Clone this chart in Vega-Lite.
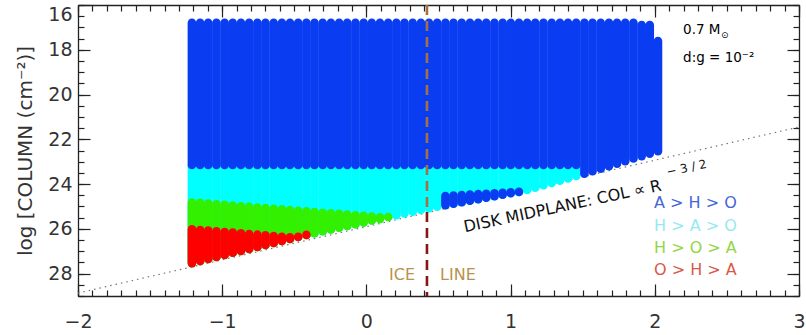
{
"$schema": "https://vega.github.io/schema/vega-lite/v6.json",
"width": 721, "height": 291,
"autosize": {"type": "none"},
"padding": {"left": 78, "top": 5, "right": 7, "bottom": 39},
"background": "white",
"config": {"view": {"stroke": null}, "axis": {"labelFont": "DejaVu Sans", "titleFont": "DejaVu Sans", "domainColor": "#222", "tickColor": "#222", "labelColor": "#333", "titleColor": "#333", "grid": false, "domainWidth": 1.3, "tickWidth": 1.2}},
"datasets": {
"cols": [
{"x":-1.21,"y":23.15,"y2":27.53,"r":"cyan"},{"x":-1.153,"y":23.15,"y2":27.44,"r":"cyan"},{"x":-1.097,"y":23.15,"y2":27.35,"r":"cyan"},{"x":-1.04,"y":23.15,"y2":27.26,"r":"cyan"},{"x":-0.983,"y":23.15,"y2":27.17,"r":"cyan"},{"x":-0.927,"y":23.15,"y2":27.07,"r":"cyan"},{"x":-0.87,"y":23.15,"y2":26.99,"r":"cyan"},{"x":-0.813,"y":23.15,"y2":26.9,"r":"cyan"},{"x":-0.756,"y":23.15,"y2":26.81,"r":"cyan"},{"x":-0.7,"y":23.15,"y2":26.72,"r":"cyan"},{"x":-0.643,"y":23.15,"y2":26.63,"r":"cyan"},{"x":-0.586,"y":23.15,"y2":26.54,"r":"cyan"},{"x":-0.53,"y":23.15,"y2":26.45,"r":"cyan"},{"x":-0.473,"y":23.15,"y2":26.36,"r":"cyan"},{"x":-0.416,"y":23.15,"y2":26.27,"r":"cyan"},{"x":-0.36,"y":23.15,"y2":26.19,"r":"cyan"},{"x":-0.303,"y":23.15,"y2":26.11,"r":"cyan"},{"x":-0.246,"y":23.15,"y2":26.03,"r":"cyan"},{"x":-0.189,"y":23.15,"y2":25.95,"r":"cyan"},{"x":-0.133,"y":23.15,"y2":25.87,"r":"cyan"},{"x":-0.076,"y":23.15,"y2":25.79,"r":"cyan"},{"x":-0.019,"y":23.15,"y2":25.71,"r":"cyan"},{"x":0.037,"y":23.15,"y2":25.63,"r":"cyan"},{"x":0.094,"y":23.15,"y2":25.56,"r":"cyan"},{"x":0.151,"y":23.15,"y2":25.47,"r":"cyan"},{"x":0.208,"y":23.15,"y2":25.39,"r":"cyan"},{"x":0.264,"y":23.15,"y2":25.31,"r":"cyan"},{"x":0.321,"y":23.15,"y2":25.24,"r":"cyan"},{"x":0.378,"y":23.15,"y2":25.16,"r":"cyan"},{"x":0.434,"y":23.15,"y2":25.08,"r":"cyan"},{"x":0.491,"y":23.15,"y2":25.01,"r":"cyan"},{"x":0.548,"y":23.15,"y2":24.94,"r":"cyan"},{"x":0.604,"y":23.15,"y2":24.88,"r":"cyan"},{"x":0.661,"y":23.15,"y2":24.81,"r":"cyan"},{"x":0.718,"y":23.15,"y2":24.74,"r":"cyan"},{"x":0.775,"y":23.15,"y2":24.68,"r":"cyan"},{"x":0.831,"y":23.15,"y2":24.61,"r":"cyan"},{"x":0.888,"y":23.15,"y2":24.54,"r":"cyan"},{"x":0.945,"y":23.15,"y2":24.47,"r":"cyan"},{"x":1.001,"y":23.15,"y2":24.41,"r":"cyan"},{"x":1.058,"y":23.15,"y2":24.35,"r":"cyan"},{"x":1.115,"y":23.15,"y2":24.26,"r":"cyan"},{"x":1.171,"y":23.15,"y2":24.16,"r":"cyan"},{"x":1.228,"y":23.15,"y2":24.05,"r":"cyan"},{"x":1.285,"y":23.15,"y2":23.95,"r":"cyan"},{"x":1.342,"y":23.15,"y2":23.85,"r":"cyan"},{"x":1.398,"y":23.15,"y2":23.75,"r":"cyan"},{"x":1.455,"y":23.15,"y2":23.64,"r":"cyan"},
{"x":-1.21,"y":24.82,"y2":27.53,"r":"green"},{"x":-1.153,"y":24.84,"y2":27.44,"r":"green"},{"x":-1.097,"y":24.87,"y2":27.35,"r":"green"},{"x":-1.04,"y":24.9,"y2":27.26,"r":"green"},{"x":-0.983,"y":24.93,"y2":27.17,"r":"green"},{"x":-0.927,"y":24.96,"y2":27.07,"r":"green"},{"x":-0.87,"y":24.99,"y2":26.99,"r":"green"},{"x":-0.813,"y":25.02,"y2":26.9,"r":"green"},{"x":-0.756,"y":25.05,"y2":26.81,"r":"green"},{"x":-0.7,"y":25.07,"y2":26.72,"r":"green"},{"x":-0.643,"y":25.1,"y2":26.63,"r":"green"},{"x":-0.586,"y":25.13,"y2":26.54,"r":"green"},{"x":-0.53,"y":25.16,"y2":26.45,"r":"green"},{"x":-0.473,"y":25.19,"y2":26.36,"r":"green"},{"x":-0.416,"y":25.22,"y2":26.27,"r":"green"},{"x":-0.36,"y":25.25,"y2":26.19,"r":"green"},{"x":-0.303,"y":25.28,"y2":26.11,"r":"green"},{"x":-0.246,"y":25.31,"y2":26.03,"r":"green"},{"x":-0.189,"y":25.33,"y2":25.95,"r":"green"},{"x":-0.133,"y":25.36,"y2":25.87,"r":"green"},{"x":-0.076,"y":25.39,"y2":25.79,"r":"green"},{"x":-0.019,"y":25.42,"y2":25.71,"r":"green"},{"x":0.037,"y":25.45,"y2":25.63,"r":"green"},{"x":0.094,"y":25.48,"y2":25.56,"r":"green"},{"x":0.151,"y":25.47,"y2":25.47,"r":"green"},
{"x":-1.21,"y":26.02,"y2":27.53,"r":"red"},{"x":-1.153,"y":26.05,"y2":27.44,"r":"red"},{"x":-1.097,"y":26.08,"y2":27.35,"r":"red"},{"x":-1.04,"y":26.11,"y2":27.26,"r":"red"},{"x":-0.983,"y":26.14,"y2":27.17,"r":"red"},{"x":-0.927,"y":26.17,"y2":27.07,"r":"red"},{"x":-0.87,"y":26.2,"y2":26.99,"r":"red"},{"x":-0.813,"y":26.23,"y2":26.9,"r":"red"},{"x":-0.756,"y":26.26,"y2":26.81,"r":"red"},{"x":-0.7,"y":26.29,"y2":26.72,"r":"red"},{"x":-0.643,"y":26.32,"y2":26.63,"r":"red"},{"x":-0.586,"y":26.35,"y2":26.54,"r":"red"},{"x":-0.53,"y":26.38,"y2":26.45,"r":"red"},{"x":-0.473,"y":26.36,"y2":26.36,"r":"red"},{"x":-0.416,"y":26.27,"y2":26.27,"r":"red"},
{"x":-1.21,"y":16.8,"y2":23.15,"r":"blue"},{"x":-1.153,"y":16.8,"y2":23.15,"r":"blue"},{"x":-1.097,"y":16.8,"y2":23.15,"r":"blue"},{"x":-1.04,"y":16.8,"y2":23.15,"r":"blue"},{"x":-0.983,"y":16.8,"y2":23.15,"r":"blue"},{"x":-0.927,"y":16.8,"y2":23.15,"r":"blue"},{"x":-0.87,"y":16.8,"y2":23.15,"r":"blue"},{"x":-0.813,"y":16.8,"y2":23.15,"r":"blue"},{"x":-0.756,"y":16.8,"y2":23.15,"r":"blue"},{"x":-0.7,"y":16.8,"y2":23.15,"r":"blue"},{"x":-0.643,"y":16.8,"y2":23.15,"r":"blue"},{"x":-0.586,"y":16.8,"y2":23.15,"r":"blue"},{"x":-0.53,"y":16.8,"y2":23.15,"r":"blue"},{"x":-0.473,"y":16.8,"y2":23.15,"r":"blue"},{"x":-0.416,"y":16.8,"y2":23.15,"r":"blue"},{"x":-0.36,"y":16.8,"y2":23.15,"r":"blue"},{"x":-0.303,"y":16.8,"y2":23.15,"r":"blue"},{"x":-0.246,"y":16.8,"y2":23.15,"r":"blue"},{"x":-0.189,"y":16.8,"y2":23.15,"r":"blue"},{"x":-0.133,"y":16.8,"y2":23.15,"r":"blue"},{"x":-0.076,"y":16.8,"y2":23.15,"r":"blue"},{"x":-0.019,"y":16.8,"y2":23.15,"r":"blue"},{"x":0.037,"y":16.8,"y2":23.15,"r":"blue"},{"x":0.094,"y":16.8,"y2":23.15,"r":"blue"},{"x":0.151,"y":16.8,"y2":23.15,"r":"blue"},{"x":0.208,"y":16.8,"y2":23.15,"r":"blue"},{"x":0.264,"y":16.8,"y2":23.15,"r":"blue"},{"x":0.321,"y":16.8,"y2":23.15,"r":"blue"},{"x":0.378,"y":16.8,"y2":23.15,"r":"blue"},{"x":0.434,"y":16.8,"y2":23.15,"r":"blue"},{"x":0.491,"y":16.8,"y2":23.15,"r":"blue"},{"x":0.548,"y":16.8,"y2":23.15,"r":"blue"},{"x":0.604,"y":16.8,"y2":23.15,"r":"blue"},{"x":0.661,"y":16.8,"y2":23.15,"r":"blue"},{"x":0.718,"y":16.8,"y2":23.15,"r":"blue"},{"x":0.775,"y":16.8,"y2":23.15,"r":"blue"},{"x":0.831,"y":16.8,"y2":23.15,"r":"blue"},{"x":0.888,"y":16.8,"y2":23.15,"r":"blue"},{"x":0.945,"y":16.8,"y2":23.15,"r":"blue"},{"x":1.001,"y":16.8,"y2":23.15,"r":"blue"},{"x":1.058,"y":16.8,"y2":23.15,"r":"blue"},{"x":1.115,"y":16.8,"y2":23.15,"r":"blue"},{"x":1.171,"y":16.8,"y2":23.15,"r":"blue"},{"x":1.228,"y":16.8,"y2":23.15,"r":"blue"},{"x":1.285,"y":16.8,"y2":23.15,"r":"blue"},{"x":1.342,"y":16.8,"y2":23.15,"r":"blue"},{"x":1.398,"y":16.8,"y2":23.15,"r":"blue"},{"x":1.455,"y":16.8,"y2":23.15,"r":"blue"},{"x":1.512,"y":16.8,"y2":23.54,"r":"blue"},{"x":1.568,"y":16.8,"y2":23.43,"r":"blue"},{"x":1.625,"y":16.8,"y2":23.31,"r":"blue"},{"x":1.682,"y":16.8,"y2":23.2,"r":"blue"},{"x":1.738,"y":16.8,"y2":23.09,"r":"blue"},{"x":1.795,"y":16.8,"y2":22.98,"r":"blue"},{"x":1.852,"y":16.8,"y2":22.86,"r":"blue"},{"x":1.909,"y":16.9,"y2":22.75,"r":"blue"},{"x":1.965,"y":16.9,"y2":22.64,"r":"blue"},{"x":2.022,"y":17.61,"y2":22.53,"r":"blue"},
{"x":0.548,"y":24.53,"y2":24.94,"r":"island"},{"x":0.604,"y":24.51,"y2":24.88,"r":"island"},{"x":0.661,"y":24.49,"y2":24.81,"r":"island"},{"x":0.718,"y":24.47,"y2":24.74,"r":"island"},{"x":0.775,"y":24.45,"y2":24.68,"r":"island"},{"x":0.831,"y":24.43,"y2":24.61,"r":"island"},{"x":0.888,"y":24.41,"y2":24.54,"r":"island"},{"x":0.945,"y":24.39,"y2":24.47,"r":"island"},{"x":1.001,"y":24.37,"y2":24.41,"r":"island"},{"x":1.058,"y":24.35,"y2":24.35,"r":"island"}
],
"midplane": [{"x":-2,"y":28.87},{"x":3,"y":21.45}],
"legend": [{"x":1.995,"y":24.85,"t":"A > H > O","k":"AHO"},{"x":1.995,"y":25.87,"t":"H > A > O","k":"HAO"},{"x":1.995,"y":26.86,"t":"H > O > A","k":"HOA"},{"x":1.995,"y":27.84,"t":"O > H > A","k":"OHA"}]
},
"layer": [
{"data": {"name": "midplane"}, "mark": {"type": "line", "color": "#777", "strokeWidth": 1.2, "strokeDash": [1.5, 4]},
 "encoding": {
  "x": {"field": "x", "type": "quantitative", "scale": {"domain": [-2, 3], "nice": false, "zero": false}, "axis": {"orient": "bottom", "values": [-2,-1.9,-1.8,-1.7,-1.6,-1.5,-1.4,-1.3,-1.2,-1.1,-1,-0.9,-0.8,-0.7,-0.6,-0.5,-0.4,-0.3,-0.2,-0.1,0,0.1,0.2,0.3,0.4,0.5,0.6,0.7,0.8,0.9,1,1.1,1.2,1.3,1.4,1.5,1.6,1.7,1.8,1.9,2,2.1,2.2,2.3,2.4,2.5,2.6,2.7,2.8,2.9,3], "labels": false, "domain": false, "tickSize": -6, "title": null}},
  "y": {"field": "y", "type": "quantitative", "scale": {"domain": [16, 29], "reverse": true, "nice": false, "zero": false}, "axis": {"orient": "left", "values": [16,16.5,17,17.5,18,18.5,19,19.5,20,20.5,21,21.5,22,22.5,23,23.5,24,24.5,25,25.5,26,26.5,27,27.5,28,28.5,29], "labels": false, "domain": false, "tickSize": -6, "title": null}}
 }},
{"data": {"name": "cols"}, "mark": {"type": "rule", "strokeWidth": 8.6, "strokeCap": "round"},
 "encoding": {
  "x": {"field": "x", "type": "quantitative", "scale": {"domain": [-2, 3], "nice": false, "zero": false}, "axis": {"orient": "bottom", "values": [-2,-1,0,1,2,3], "tickSize": -12, "labelPadding": 28, "labelFontSize": 19, "labelFlush": false, "title": null}},
  "y": {"field": "y", "type": "quantitative", "scale": {"domain": [16, 29], "reverse": true, "nice": false, "zero": false}, "axis": {"orient": "left", "values": [16,18,20,22,24,26,28], "tickSize": -12, "labelPadding": 18, "labelFontSize": 19, "labelFlush": true, "title": "log [COLUMN (cm⁻²)]", "titleFontSize": 20, "titleFontWeight": "normal", "titlePadding": 12}},
  "y2": {"field": "y2"},
  "color": {"field": "r", "type": "nominal", "scale": {"domain": ["cyan","green","red","blue","island"], "range": ["#00ffff","#33f000","#ff0000","#0a3cf2","#0a3cf2"]}, "legend": null}
 }},
{"data": {"values": [{"x": 0.42, "y": 16, "y2": 25.25}]}, "mark": {"type": "rule", "color": "#a87040", "strokeWidth": 2.6, "strokeDash": [10, 6]},
 "encoding": {
  "x": {"field": "x", "type": "quantitative", "scale": {"domain": [-2, 3], "nice": false, "zero": false}, "axis": {"orient": "top", "values": [-2,-1,0,1,2,3], "tickSize": -12, "labels": false, "title": null}},
  "y": {"field": "y", "type": "quantitative", "scale": {"domain": [16, 29], "reverse": true, "nice": false, "zero": false}, "axis": {"orient": "right", "values": [16,18,20,22,24,26,28], "tickSize": -12, "labels": false, "title": null}},
  "y2": {"field": "y2"}
 }},
{"data": {"values": [{"x": 0.42, "y": 25.25, "y2": 29}]}, "mark": {"type": "rule", "color": "#8b1414", "strokeWidth": 2.6, "strokeDash": [10, 6]},
 "encoding": {
  "x": {"field": "x", "type": "quantitative", "scale": {"domain": [-2, 3], "nice": false, "zero": false}, "axis": {"orient": "top", "values": [-2,-1.9,-1.8,-1.7,-1.6,-1.5,-1.4,-1.3,-1.2,-1.1,-1,-0.9,-0.8,-0.7,-0.6,-0.5,-0.4,-0.3,-0.2,-0.1,0,0.1,0.2,0.3,0.4,0.5,0.6,0.7,0.8,0.9,1,1.1,1.2,1.3,1.4,1.5,1.6,1.7,1.8,1.9,2,2.1,2.2,2.3,2.4,2.5,2.6,2.7,2.8,2.9,3], "labels": false, "domain": false, "tickSize": -6, "title": null}},
  "y": {"field": "y", "type": "quantitative", "scale": {"domain": [16, 29], "reverse": true, "nice": false, "zero": false}, "axis": {"orient": "right", "values": [16,16.5,17,17.5,18,18.5,19,19.5,20,20.5,21,21.5,22,22.5,23,23.5,24,24.5,25,25.5,26,26.5,27,27.5,28,28.5,29], "labels": false, "domain": false, "tickSize": -6, "title": null}},
  "y2": {"field": "y2"}
 }},
{"data": {"values": [{"x": 0.247, "y": 28.06, "t": "ICE"}, {"x": 0.635, "y": 28.06, "t": "LINE"}]}, "mark": {"type": "text", "font": "DejaVu Sans", "fontSize": 16, "color": "#b8924e", "align": "center", "baseline": "middle"},
 "encoding": {
  "x": {"field": "x", "type": "quantitative", "scale": {"domain": [-2, 3], "nice": false, "zero": false}, "axis": null},
  "y": {"field": "y", "type": "quantitative", "scale": {"domain": [16, 29], "reverse": true, "nice": false, "zero": false}, "axis": null},
  "text": {"field": "t"}
 }},
{"data": {"name": "legend"}, "mark": {"type": "text", "font": "DejaVu Sans", "fontSize": 16, "align": "left", "baseline": "middle"},
 "encoding": {
  "x": {"field": "x", "type": "quantitative", "scale": {"domain": [-2, 3], "nice": false, "zero": false}, "axis": null},
  "y": {"field": "y", "type": "quantitative", "scale": {"domain": [16, 29], "reverse": true, "nice": false, "zero": false}, "axis": null},
  "text": {"field": "t"},
  "color": {"field": "k", "type": "nominal", "scale": {"domain": ["AHO","HAO","HOA","OHA"], "range": ["#4566d8","#98e8f2","#92d646","#d85a46"]}, "legend": null}
 }},
{"data": {"values": [{"x": 2.196, "y": 17.12, "t": "0.7 M"}, {"x": 2.196, "y": 18.37, "t": "d:g = 10⁻²"}]}, "mark": {"type": "text", "font": "DejaVu Sans", "fontSize": 13.5, "color": "#000", "align": "left", "baseline": "middle"},
 "encoding": {
  "x": {"field": "x", "type": "quantitative", "scale": {"domain": [-2, 3], "nice": false, "zero": false}, "axis": null},
  "y": {"field": "y", "type": "quantitative", "scale": {"domain": [16, 29], "reverse": true, "nice": false, "zero": false}, "axis": null},
  "text": {"field": "t"}
 }},
{"data": {"values": [{"x": 2.485, "y": 17.36, "t": "⊙"}]}, "mark": {"type": "text", "font": "DejaVu Sans", "fontSize": 9, "color": "#000", "align": "center", "baseline": "middle"},
 "encoding": {
  "x": {"field": "x", "type": "quantitative", "scale": {"domain": [-2, 3], "nice": false, "zero": false}, "axis": null},
  "y": {"field": "y", "type": "quantitative", "scale": {"domain": [16, 29], "reverse": true, "nice": false, "zero": false}, "axis": null},
  "text": {"field": "t"}
 }},
{"data": {"values": [{"x": 1.36, "y": 25.0, "t": "DISK MIDPLANE: COL ∝ R"}]}, "mark": {"type": "text", "font": "DejaVu Sans", "fontSize": 16, "color": "#111", "align": "center", "baseline": "middle", "angle": -12},
 "encoding": {
  "x": {"field": "x", "type": "quantitative", "scale": {"domain": [-2, 3], "nice": false, "zero": false}, "axis": null},
  "y": {"field": "y", "type": "quantitative", "scale": {"domain": [16, 29], "reverse": true, "nice": false, "zero": false}, "axis": null},
  "text": {"field": "t"}
 }},
{"data": {"values": [{"x": 2.22, "y": 23.28, "t": "− 3 / 2"}]}, "mark": {"type": "text", "font": "DejaVu Sans", "fontSize": 12, "color": "#111", "align": "center", "baseline": "middle", "angle": -12},
 "encoding": {
  "x": {"field": "x", "type": "quantitative", "scale": {"domain": [-2, 3], "nice": false, "zero": false}, "axis": null},
  "y": {"field": "y", "type": "quantitative", "scale": {"domain": [16, 29], "reverse": true, "nice": false, "zero": false}, "axis": null},
  "text": {"field": "t"}
 }}
],
"resolve": {"scale": {"color": "independent"}, "axis": {"x": "independent", "y": "independent"}}
}
